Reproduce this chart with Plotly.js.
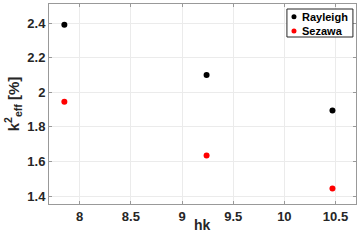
<!DOCTYPE html>
<html><head><meta charset="utf-8">
<script src="https://cdn.plot.ly/plotly-3.0.1.min.js"></script>
<style>html,body{margin:0;padding:0;background:#fff;}#c{width:359px;height:246px;}</style>
</head><body><div id="c"></div>
<script>
const hk = [7.85, 9.24, 10.47];
const rayleigh = [2.39, 2.10, 1.895];
const sezawa = [1.945, 1.634, 1.443];
const seriesNames = ['Rayleigh', 'Sezawa'];
const seriesColors = ['#000000', '#ff0000'];
const xTicks = [8, 8.5, 9, 9.5, 10, 10.5];
const yTicks = [1.4, 1.6, 1.8, 2, 2.2, 2.4];

const FAM = 'Liberation Sans, Arial, sans-serif';
const fnt = {family: FAM, size: 13, color: '#262626', weight: 'bold'};
const traces = [
  {x: hk, y: rayleigh, name: seriesNames[0], mode: 'markers', type: 'scatter', marker: {color: seriesColors[0], size: 6}},
  {x: hk, y: sezawa, name: seriesNames[1], mode: 'markers', type: 'scatter', marker: {color: seriesColors[1], size: 6}}
];
const axBase = {showline: true, mirror: 'ticks', linecolor: '#999999', linewidth: 1, ticks: 'inside', ticklen: 3, tickcolor: '#999999',
  showgrid: true, gridcolor: '#ebebeb', gridwidth: 1, zeroline: false, tickfont: fnt};

// custom legend (box + markers + labels)
const legX0 = 0.775, legX1 = 0.99, legY0 = 0.835, legY1 = 0.975;
const rowY = [0.9365, 0.865];
const markX = 0.798, textX = 0.818;
const shapes = [{type: 'rect', xref: 'paper', yref: 'paper', x0: legX0, x1: legX1, y0: legY0, y1: legY1,
  line: {color: '#262626', width: 1}, fillcolor: '#ffffff', layer: 'above'}];
const annotations = [];
seriesNames.forEach((n, i) => {
  shapes.push({type: 'circle', xref: 'paper', yref: 'paper', xsizemode: 'pixel', ysizemode: 'pixel',
    xanchor: markX, yanchor: rowY[i], x0: -2.5, x1: 2.5, y0: -2.5, y1: 2.5,
    fillcolor: seriesColors[i], line: {width: 0}, layer: 'above'});
  annotations.push({xref: 'paper', yref: 'paper', x: textX, y: rowY[i], xanchor: 'left', yanchor: 'middle',
    text: n, showarrow: false, font: {family: FAM, size: 11, color: '#000', weight: 'bold'}});
});
annotations.push({xref: 'paper', yref: 'paper', x: 0.5, y: 0, xanchor: 'center', yanchor: 'middle', yshift: -21,
  text: 'hk', showarrow: false, font: {family: FAM, size: 14, color: '#262626', weight: 'bold'}});

const layout = {
  width: 359, height: 246,
  margin: {l: 49, r: 3, t: 4, b: 42},
  paper_bgcolor: '#fff', plot_bgcolor: '#fff',
  showlegend: false,
  shapes: shapes,
  annotations: annotations,
  xaxis: Object.assign({}, axBase, {range: [7.7, 10.7], tickvals: xTicks, ticktext: xTicks.map(String)}),
  yaxis: Object.assign({}, axBase, {range: [1.354, 2.51], tickvals: yTicks, ticktext: yTicks.map(String),
    title: {text: 'k<sup>2</sup><sub>eff</sub> [%]', font: {family: FAM, size: 15, color: '#262626', weight: 'bold'}, standoff: 4}})
};
Plotly.newPlot('c', traces, layout, {displayModeBar: false, staticPlot: true});
</script></body></html>
